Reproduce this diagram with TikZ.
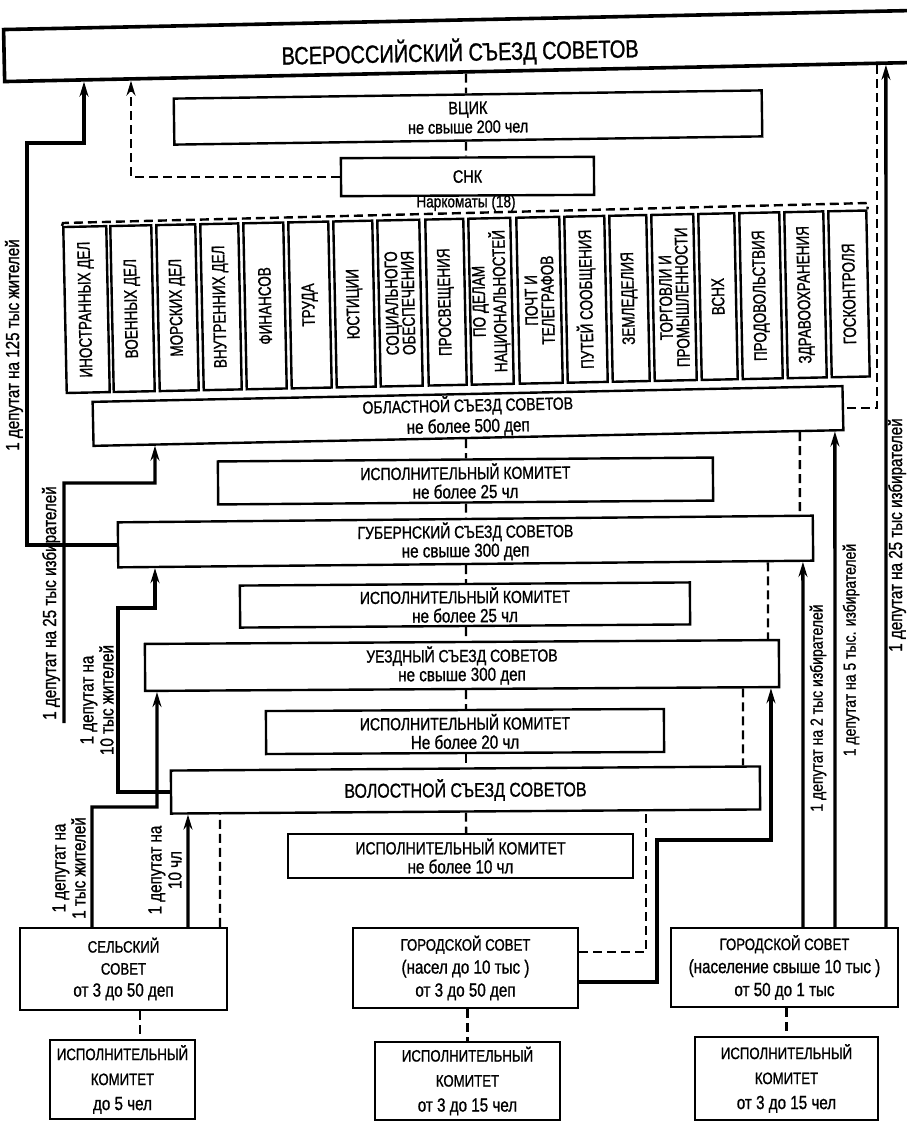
\documentclass[tikz,border=0pt]{standalone}
\usepackage{fontspec}
\setmainfont{Liberation Sans}[FakeStretch=0.80, FakeBold=1]
\newfontfamily\nkfont{Liberation Sans}[FakeStretch=0.75, FakeBold=1]
\usetikzlibrary{arrows.meta,calc}
\newcommand\myfs[2]{\fontsize{#1}{#2}\selectfont}
\newcommand\nkbox[4]{%
  \pgfmathsetmacro\nkc{(#2+#3)/2}%
  \pgfmathsetmacro\nkw{#3-#2}%
  \pgfmathsetmacro\nky{310-16.5*(\nkc-65)/803}%
  \node[bx, rotate=91.2, minimum width=166pt, minimum height=\nkw pt,
        font=\nkfont\myfs{18}{16.5}] (#1) at (\nkc,\nky) {#4};}
\newcommand\onbot[3]{\coordinate (#1) at (intersection of #2.south west--#2.south east and #3,0--#3,10);}
\newcommand\ontop[3]{\coordinate (#1) at (intersection of #2.north west--#2.north east and #3,0--#3,10);}
\newcommand\dchain[3]{\draw[dsh] (intersection of #1.south west--#1.south east and #3,0--#3,10) -- (intersection of #2.north west--#2.north east and #3,0--#3,10);}
\newcommand\ttlline[1]{{\myfs{17.5}{19}#1}}
\newcommand\capline[1]{{\myfs{16.5}{19}#1}}
\tikzset{
  bx/.style={draw, line width=2.4pt, inner sep=0pt, align=center},
  thk/.style={line width=3.4pt},
  dsh/.style={line width=2.4pt, dash pattern=on 9pt off 5pt},
  arr/.style={-{Stealth[length=15pt,width=9pt,inset=5pt]}},
  lbl/.style={rotate=90, align=center, inner sep=0pt, font=\myfs{19}{20}},
}
\begin{document}
\begin{tikzpicture}[x=1pt,y=-1pt]
\fill[white] (0,0) rectangle (906,1125);
\useasboundingbox (0,0) rectangle (906,1125);

% top levels
\node[bx, line width=3.6pt, rotate=1.2, minimum width=912pt, minimum height=52pt,
      text height=30pt, text depth=0pt, font=\myfs{25}{25}] (all) at (460,46) {ВСЕРОССИЙСКИЙ СЪЕЗД СОВЕТОВ};
\node[bx, rotate=0.8, minimum width=588pt, minimum height=46pt, font=\myfs{18}{19}] (vcik) at (468,117.5)
  {{\myfs{18}{19}ВЦИК}\\не свыше 200 чел};
\node[bx, rotate=0.3, minimum width=253pt, minimum height=38pt, font=\myfs{18}{18}] (snk) at (467.5,176.5) {СНК};
\node[inner sep=0pt, font=\myfs{17}{17}] (nkt) at (466,203) {Наркоматы (18)};

% narkomats
\nkbox{nk1}{65}{108}{ИНОСТРАННЫХ ДЕЛ}
\nkbox{nk2}{112}{153}{ВОЕННЫХ ДЕЛ}
\nkbox{nk3}{158}{197}{МОРСКИХ ДЕЛ}
\nkbox{nk4}{202}{240}{ВНУТРЕННИХ ДЕЛ}
\nkbox{nk5}{245}{285}{ФИНАНСОВ}
\nkbox{nk6}{290}{330}{ТРУДА}
\nkbox{nk7}{335}{374}{ЮСТИЦИИ}
\nkbox{nk8}{379}{421}{СОЦИАЛЬНОГО\\ОБЕСПЕЧЕНИЯ}
\nkbox{nk9}{427}{465}{ПРОСВЕЩЕНИЯ}
\nkbox{nk10}{470}{512}{ПО ДЕЛАМ\\НАЦИОНАЛЬНОСТЕЙ}
\nkbox{nk11}{518}{561}{ПОЧТ И\\ТЕЛЕГРАФОВ}
\nkbox{nk12}{566}{606}{ПУТЕЙ СООБЩЕНИЯ}
\nkbox{nk13}{611}{648}{ЗЕМЛЕДЕЛИЯ}
\nkbox{nk14}{653}{695}{ТОРГОВЛИ И\\ПРОМЫШЛЕННОСТИ}
\nkbox{nk15}{700}{736}{ВСНХ}
\nkbox{nk16}{741}{781}{ПРОДОВОЛЬСТВИЯ}
\nkbox{nk17}{786}{825}{ЗДРАВООХРАНЕНИЯ}
\nkbox{nk18}{830}{868}{ГОСКОНТРОЛЯ}

% congress levels
\node[bx, rotate=1.2, minimum width=750pt, minimum height=44pt, font=\myfs{19}{21}] (obl) at (468,416)
  {\ttlline{ОБЛАСТНОЙ СЪЕЗД СОВЕТОВ}\\не более 500 деп};
\node[bx, rotate=0.45, minimum width=495pt, minimum height=43pt, font=\myfs{19}{19}] (isp1) at (465.5,481)
  {\ttlline{ИСПОЛНИТЕЛЬНЫЙ КОМИТЕТ}\\не более 25 чл};
\node[bx, rotate=0.55, minimum width=695pt, minimum height=45pt, font=\myfs{19}{19}] (gub) at (465.5,541.5)
  {\ttlline{ГУБЕРНСКИЙ СЪЕЗД СОВЕТОВ}\\не свыше 300 деп};
\node[bx, rotate=0.4, minimum width=450pt, minimum height=42pt, font=\myfs{19}{19}] (isp2) at (465,605)
  {\ttlline{ИСПОЛНИТЕЛЬНЫЙ КОМИТЕТ}\\не более 25 чл};
\node[bx, rotate=0.35, minimum width=634pt, minimum height=47pt, font=\myfs{19}{19}] (uezd) at (462,665.5)
  {\ttlline{УЕЗДНЫЙ СЪЕЗД СОВЕТОВ}\\не свыше 300 деп};
\node[bx, rotate=0.3, minimum width=398pt, minimum height=43pt, font=\myfs{19}{19}] (isp3) at (465,731.5)
  {\ttlline{ИСПОЛНИТЕЛЬНЫЙ КОМИТЕТ}\\Не более 20 чл};
\node[bx, rotate=0.4, minimum width=589pt, minimum height=43pt, font=\myfs{20}{20}] (vol) at (465.5,790)
  {ВОЛОСТНОЙ СЪЕЗД СОВЕТОВ};
\node[bx, minimum width=345pt, minimum height=44pt, font=\myfs{19}{19}] (isp4) at (460.5,856)
  {\ttlline{ИСПОЛНИТЕЛЬНЫЙ КОМИТЕТ}\\не более 10 чл};

% bottom councils
\node[bx, minimum width=207pt, minimum height=82pt, font=\myfs{19}{22}] (sel) at (123.5,969)
  {\capline{СЕЛЬСКИЙ}\\\capline{СОВЕТ}\\от 3 до 50 деп};
\node[bx, minimum width=145pt, minimum height=79pt, font=\myfs{19}{25}] (selisp) at (122.5,1079.5)
  {\capline{ИСПОЛНИТЕЛЬНЫЙ}\\\capline{КОМИТЕТ}\\до 5 чел};
\node[bx, minimum width=225pt, minimum height=80pt, font=\myfs{19}{23}] (gor1) at (465.5,968)
  {\capline{ГОРОДСКОЙ СОВЕТ}\\(насел до 10 тыс )\\от 3 до 50 деп};
\node[bx, minimum width=185pt, minimum height=78pt, font=\myfs{19}{25}] (gor1isp) at (467.5,1081)
  {\capline{ИСПОЛНИТЕЛЬНЫЙ}\\\capline{КОМИТЕТ}\\от 3 до 15 чел};
\node[bx, minimum width=227pt, minimum height=79pt, font=\myfs{19}{23}] (gor2) at (784.5,967.5)
  {\capline{ГОРОДСКОЙ СОВЕТ}\\(население свыше 10 тыс )\\от 50 до 1 тыс};
\node[bx, minimum width=183pt, minimum height=83pt, font=\myfs{19}{25}] (gor2isp) at (786.5,1078.5)
  {\capline{ИСПОЛНИТЕЛЬНЫЙ}\\\capline{КОМИТЕТ}\\от 3 до 15 чел};

% labels
\node[lbl] (l125) at (14,345) {1 депутат на 125 тыс жителей};
\node[lbl] (l25) at (51,603) {1 депутат на 25 тыс избирателей};
\node[lbl] (l10t) at (97,700) {1 депутат на\\10 тыс жителей};
\node[lbl] (l1t) at (69,868) {1 депутат на\\1 тыс жителей};
\node[lbl] (l10c) at (165,870) {1 депутат на\\10 чл};
\node[lbl, font=\myfs{17.5}{18}] (r2) at (818,708) {1 депутат на 2 тыс избирателей};
\node[lbl, font=\myfs{17.5}{18}] (r5) at (851,650) {1 депутат на 5 тыс. избирателей};
\node[lbl] (r25) at (897,535) {1 депутат на 25 тыс избирателей};

% points on box edges
\onbot{aA}{all}{84}
\onbot{aB}{all}{131}
\onbot{aC}{all}{877}
\onbot{aD}{all}{886}
\onbot{oA}{obl}{155}
\onbot{oB}{obl}{800}
\onbot{oC}{obl}{835}
\ontop{gA}{gub}{800}
\onbot{gB}{gub}{155}
\onbot{gC}{gub}{768}
\onbot{gD}{gub}{803}
\ontop{uA}{uezd}{768}
\onbot{uB}{uezd}{157}
\onbot{uC}{uezd}{743}
\onbot{uD}{uezd}{771}
\ontop{vA}{vol}{743}
\onbot{vB}{vol}{188}
\onbot{vC}{vol}{220}
\onbot{vD}{vol}{646}
\coordinate (f25) at (64,723);

% dashed chain along the middle
\dchain{all}{vcik}{466}
\dchain{vcik}{snk}{466}
\dchain{obl}{isp1}{466}
\dchain{isp1}{gub}{466}
\dchain{gub}{isp2}{466}
\dchain{isp2}{uezd}{466}
\dchain{uezd}{isp3}{466}
\dchain{isp3}{vol}{466}
\dchain{vol}{isp4}{466}
\draw[dsh] ([xshift=16.5pt]sel.south) -- ([xshift=17.5pt]selisp.north);
\draw[dsh] (gor1isp.north |- gor1.south) -- (gor1isp.north);
\draw[dsh] (gor2isp.north |- gor2.south) -- (gor2isp.north);

% other dashed links
\draw[dsh, arr] (snk.west) -| (aB);
\draw[dsh] (nk1.north east) -- (63,223) -- (868,203) -- (nk18.south east);
\draw[dsh] (aC) |- (obl.east);
\draw[dsh] (oB) -- (gA);
\draw[dsh] (gC) -- (uA);
\draw[dsh] (uC) -- (vA);
\draw[dsh] ([xshift=96.5pt]sel.north) -- (vC);
\draw[dsh] ([yshift=16pt]gor1.east) -| (vD);

% solid election lines
\draw[thk, arr] (gub.west) -| (27,143) -| (aA);
\draw[thk, arr] (f25) |- (155,483) -- (oA);
\draw[thk, arr] (vol.west) -| (118,608) -| (gB);
\draw[thk, arr] ([xshift=-31.5pt]sel.north) |- (157,807) -- (uB);
\draw[thk, arr] ([xshift=64.5pt]sel.north) -- (vB);
\draw[thk, arr] ([yshift=-14pt]gor1.east) -| (657,840) -| (uD);
\draw[thk, arr] ([xshift=18.5pt]gor2.north) -- (gD);
\draw[thk, arr] ([xshift=50.5pt]gor2.north) -- (oC);
\draw[thk, arr] ([xshift=101.5pt]gor2.north) -- (aD);
\end{tikzpicture}
\end{document}
